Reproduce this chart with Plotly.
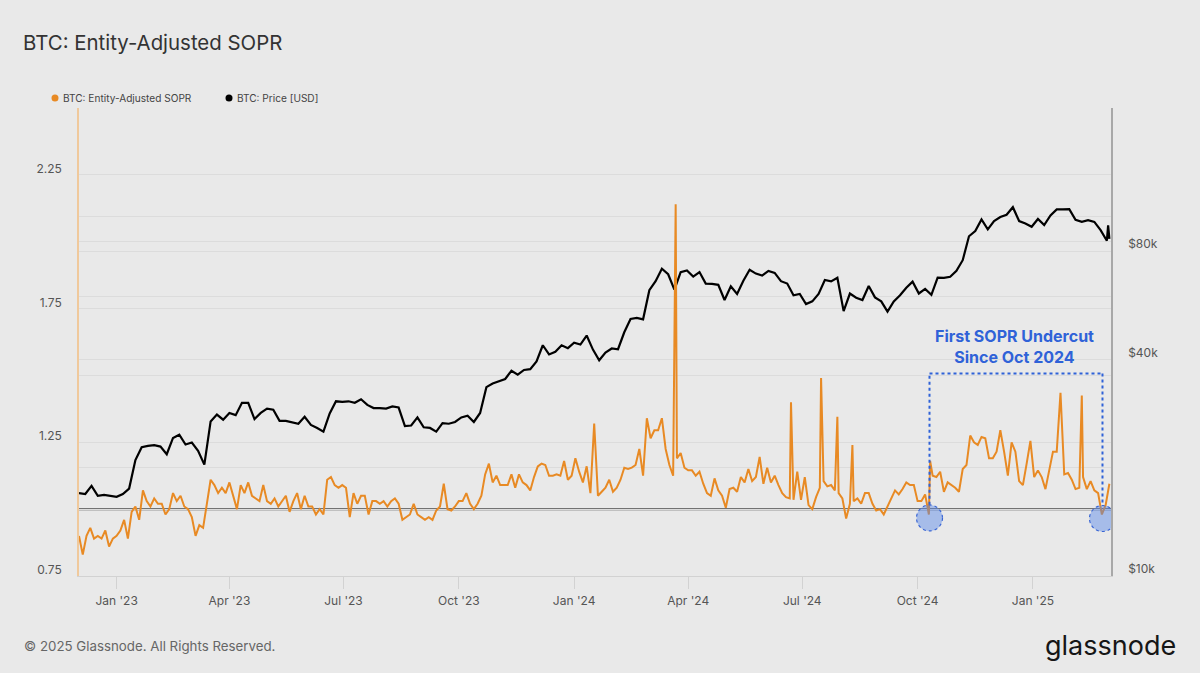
import math
import pandas as pd
import plotly.graph_objects as go

# ---------------- data ----------------
sopr_start = "2022-12-02"          # 3-day sampling
sopr_values = [
    0.90, 0.83, 0.90, 0.93, 0.89, 0.90, 0.89, 0.92, 0.86, 0.89,
    0.90, 0.92, 0.96, 0.89, 0.99, 1.01, 0.96, 1.07, 1.03, 1.01,
    1.04, 1.02, 1.02, 0.98, 1.00, 1.06, 1.03, 1.05, 1.01, 1.00,
    0.97, 0.90, 0.94, 0.93, 1.02, 1.11, 1.09, 1.06, 1.08, 1.06,
    1.10, 1.05, 1.00, 1.09, 1.06, 1.10, 1.05, 1.04, 1.03, 1.09,
    1.03, 1.02, 1.04, 1.01, 1.03, 1.05, 0.99, 1.03, 1.06, 1.00,
    1.05, 1.01, 1.01, 0.98, 1.00, 0.98, 1.11, 1.12, 1.09, 1.08,
    1.09, 1.08, 0.97, 1.06, 1.02, 1.05, 1.05, 0.98, 1.03, 1.03,
    1.02, 1.03, 1.01, 1.03, 1.04, 1.02, 0.96, 0.97, 0.98, 1.02,
    0.98, 0.97, 0.96, 0.97, 0.96, 0.995, 1.01, 1.095, 1.00, 0.995,
    1.01, 1.03, 1.03, 1.06, 1.02, 1.00, 1.02, 1.05, 1.13, 1.17,
    1.10, 1.125, 1.09, 1.09, 1.09, 1.13, 1.08, 1.13, 1.10, 1.09,
    1.07, 1.12, 1.16, 1.17, 1.165, 1.125, 1.125, 1.13, 1.125, 1.18,
    1.11, 1.125, 1.19, 1.14, 1.10, 1.16, 1.06, 1.32, 1.05, 1.065,
    1.08, 1.11, 1.065, 1.08, 1.11, 1.155, 1.15, 1.155, 1.165, 1.225,
    1.125, 1.34, 1.265, 1.295, 1.295, 1.34, 1.225, 1.165, 1.125, 1.19,
    1.21, 1.155, 1.145, 1.145, 1.125, 1.14, 1.095, 1.06, 1.05, 1.115,
    1.07, 1.05, 1.005, 1.075, 1.08, 1.065, 1.12, 1.10, 1.15, 1.105,
    1.12, 1.195, 1.095, 1.155, 1.10, 1.125, 1.09, 1.06, 1.045, 1.04,
    1.035, 1.14, 1.035, 1.12, 1.015, 1.00, 1.045, 1.08, 1.105, 1.085,
    1.09, 1.07, 1.06, 1.04, 0.965, 1.02, 1.03, 1.04, 1.02, 1.06,
    1.06, 1.02, 0.995, 1.00, 0.98, 1.01, 1.04, 1.07, 1.055, 1.075,
    1.10, 1.09, 1.09, 1.03, 1.03, 1.055, 0.98, 1.125, 1.12, 1.14,
    1.065, 1.10, 1.09, 1.08, 1.065, 1.15, 1.165, 1.275, 1.25, 1.24,
    1.27, 1.265, 1.19, 1.19, 1.215, 1.295, 1.215, 1.125, 1.25, 1.215,
    1.105, 1.09, 1.17, 1.255, 1.12, 1.145, 1.12, 1.075, 1.145, 1.215,
    1.215, 1.435, 1.13, 1.135, 1.11, 1.075, 1.08, 1.12, 1.075, 1.105,
    1.07, 1.06, 0.98, 1.015, 1.095,
]
# single-day spikes between the 3-day samples
sopr_spike_dates = ["2024-03-22", "2024-06-22", "2024-07-16", "2024-07-29",
                    "2024-08-10", "2024-10-11", "2025-02-09"]
sopr_spike_values = [2.14, 1.40, 1.49, 1.345, 1.24, 1.18, 1.425]

price_start = "2022-12-02"         # 5-day sampling, thousands of USD
price_values_k = [
    17.0, 16.9, 17.8, 16.7, 16.8, 16.7, 16.6, 16.9, 17.5, 21.0,
    22.8, 23.0, 23.1, 22.9, 21.8, 24.2, 24.7, 23.2, 23.5, 22.3,
    20.4, 26.9, 28.1, 27.2, 28.4, 28.0, 30.3, 30.3, 27.3, 28.4,
    29.2, 29.0, 27.0, 27.0, 26.8, 26.5, 27.7, 26.3, 25.8, 25.2,
    28.3, 30.6, 30.5, 30.6, 30.3, 31.0, 29.9, 29.3, 29.3, 29.2,
    29.6, 29.4, 26.1, 26.2, 27.6, 25.9, 25.8, 25.2, 26.6, 26.5,
    26.8, 27.6, 27.9, 26.8, 28.4, 33.5, 34.3, 34.8, 35.3, 37.2,
    36.3, 37.4, 37.6, 39.5, 43.8, 41.3, 42.0, 43.8, 43.0, 44.5,
    44.0, 46.6, 42.6, 39.8, 41.8, 42.9, 42.7, 47.6, 51.8, 52.2,
    51.7, 62.3, 66.0, 71.5, 69.0, 62.5, 69.9, 70.7, 68.0, 70.0,
    65.0, 64.9, 64.5, 58.5, 63.9, 60.8, 66.2, 71.0, 69.3, 68.4,
    70.5, 69.6, 66.0, 65.0, 60.3, 60.8, 57.0, 58.0, 60.8, 66.5,
    65.9, 67.5, 54.5, 61.0, 59.4, 58.5, 64.0, 59.5, 58.0, 54.3,
    58.0, 60.3, 63.3, 65.8, 61.0, 62.8, 60.5, 67.5, 67.4, 67.9,
    70.5, 75.5, 88.0, 91.0, 98.0, 92.0, 97.0, 99.5, 101.0, 106.0,
    97.0, 95.5, 93.5, 98.3, 94.5, 100.5, 104.5, 104.5, 104.7, 97.8,
    96.5, 97.5, 96.5, 91.5, 85.5,
]
price_tail_dates = ["2025-03-02", "2025-03-03"]
price_tail_values_k = [94.3, 86.5]

x_tick_dates = ["2023-01-01", "2023-04-01", "2023-07-01", "2023-10-01",
                "2024-01-01", "2024-04-01", "2024-07-01", "2024-10-01",
                "2025-01-01"]
x_tick_labels = ["Jan '23", "Apr '23", "Jul '23", "Oct '23", "Jan '24",
                 "Apr '24", "Jul '24", "Oct '24", "Jan '25"]
sopr_ticks = [0.75, 1.0, 1.25, 1.5, 1.75, 2.0, 2.25, 2.5]
sopr_tick_labels = ["0.75", "", "1.25", "", "1.75", "", "2.25", ""]
price_ticks = [10000, 20000, 40000, 60000, 80000, 100000]
price_tick_labels = ["$10k", "", "$40k", "", "$80k", ""]

# annotation anchors (dates / SOPR values)
undercut_dates = ["2024-10-10 12:00", "2025-02-25 12:00"]
undercut_level = [0.967, 0.965]
box_top = 1.507
box_bottom = 1.016
note_date = "2024-12-17"
note_level = 1.608

# ---------------- build series ----------------
sopr = pd.concat([
    pd.Series(sopr_values, index=pd.date_range(sopr_start, periods=len(sopr_values), freq="3D")),
    pd.Series(sopr_spike_values, index=pd.to_datetime(sopr_spike_dates)),
]).sort_index()

price = pd.concat([
    pd.Series(price_values_k, index=pd.date_range(price_start, periods=len(price_values_k), freq="5D")),
    pd.Series(price_tail_values_k, index=pd.to_datetime(price_tail_dates)),
]).sort_index() * 1000

ORANGE = "#e88a24"
BLUE = "#2f62d8"
BG = "#e9e9e9"
GRID = "#dcdcdc"

# plot area in pixels
L, R, T, B = 79, 1111, 108, 576
W, H = 1200, 673


def px(xp):
    return (xp - L) / (R - L)


def py(yp):
    return (B - yp) / (B - T)


fig = go.Figure()
fig.add_trace(go.Scatter(x=price.index, y=price.values, mode="lines",
                         line=dict(color="#000000", width=2.2), yaxis="y",
                         name="BTC: Price [USD]"))
fig.add_trace(go.Scatter(x=sopr.index, y=sopr.values, mode="lines",
                         line=dict(color=ORANGE, width=2), yaxis="y2",
                         name="BTC: Entity-Adjusted SOPR"))

shapes = []
# SOPR = 1 reference line
shapes.append(dict(type="line", xref="paper", x0=0, x1=1, yref="y2", y0=1, y1=1,
                   line=dict(color="#4a4a4a", width=2), layer="below"))
# dashed bracket
bl = dict(color=BLUE, width=2, dash="dot")
shapes.append(dict(type="line", xref="x", yref="y2", x0=undercut_dates[0], x1=undercut_dates[0],
                   y0=box_bottom, y1=box_top, line=bl))
shapes.append(dict(type="line", xref="x", yref="y2", x0=undercut_dates[0], x1=undercut_dates[1],
                   y0=box_top, y1=box_top, line=bl))
shapes.append(dict(type="line", xref="x", yref="y2", x0=undercut_dates[1], x1=undercut_dates[1],
                   y0=box_top, y1=box_bottom, line=bl))
# circles at the undercuts
for d, v in zip(undercut_dates, undercut_level):
    shapes.append(dict(type="circle", xref="x", yref="y2", xsizemode="pixel", ysizemode="pixel",
                       xanchor=d, yanchor=v, x0=-13, x1=13, y0=-13, y1=13,
                       fillcolor="rgba(84,134,232,0.45)",
                       line=dict(color="#3a66d4", width=1.2, dash="dot")))
# legend dots
for cx, col in [(55, ORANGE), (229, "#000000")]:
    shapes.append(dict(type="circle", xref="paper", yref="paper",
                       x0=px(cx - 3.5), x1=px(cx + 3.5), y0=py(98 + 3.5), y1=py(98 - 3.5),
                       fillcolor=col, line=dict(width=0)))

annotations = [
    dict(text="BTC: Entity-Adjusted SOPR", xref="paper", yref="paper", x=px(21), y=py(42),
         xanchor="left", yanchor="middle", showarrow=False,
         font=dict(size=20.4, color="#333333")),
    dict(text="BTC: Entity-Adjusted SOPR", xref="paper", yref="paper", x=px(61), y=py(98),
         xanchor="left", yanchor="middle", showarrow=False,
         font=dict(size=10.1, color="#444444")),
    dict(text="BTC: Price [USD]", xref="paper", yref="paper", x=px(235), y=py(98),
         xanchor="left", yanchor="middle", showarrow=False,
         font=dict(size=10.1, color="#444444")),
    dict(text="© 2025 Glassnode. All Rights Reserved.", xref="paper", yref="paper",
         x=px(22), y=py(646), xanchor="left", yanchor="middle", showarrow=False,
         font=dict(size=13.3, color="#666666")),
    dict(text="glassnode", xref="paper", yref="paper", x=px(1178), y=py(645),
         xanchor="right", yanchor="middle", showarrow=False,
         font=dict(size=27, color="#161616")),
    dict(text="<b>First SOPR Undercut</b><br><b>Since Oct 2024</b>", xref="x", yref="y2",
         x=note_date, y=note_level, xanchor="center", yanchor="middle", showarrow=False,
         align="center", font=dict(size=16, color=BLUE)),
]

fig.update_layout(
    width=W, height=H, autosize=False,
    paper_bgcolor=BG, plot_bgcolor=BG,
    margin=dict(l=L, r=W - R, t=T, b=H - B, pad=0),
    showlegend=False,
    font=dict(family="Inter, Roboto, sans-serif", size=12, color="#555555"),
    xaxis=dict(type="date", range=["2022-12-02", "2025-03-04 07:00"],
               tickvals=x_tick_dates, ticktext=x_tick_labels,
               ticks="outside", ticklen=12, tickcolor="#d2d2d2", tickwidth=1,
               showgrid=False, showline=True, linecolor="#d2d2d2", linewidth=1,
               zeroline=False, ticklabelstandoff=2,
               tickfont=dict(size=12, color="#555555")),
    yaxis=dict(type="log", range=[4, math.log10(200000)], side="right",
               tickvals=price_ticks, ticktext=price_tick_labels,
               showgrid=True, gridcolor=GRID, gridwidth=1,
               showline=True, linecolor="#a8a8a8", linewidth=1.5, zeroline=False,
               ticks="", ticklabelshift=-7, ticklabelstandoff=13,
               tickfont=dict(size=12, color="#555555")),
    yaxis2=dict(range=[0.75, 2.5], overlaying="y", side="left",
                tickvals=sopr_ticks, ticktext=sopr_tick_labels,
                showgrid=True, gridcolor=GRID, gridwidth=1,
                showline=True, linecolor="#f0c99c", linewidth=1.5, zeroline=False,
                ticks="", ticklabelshift=-6, ticklabelstandoff=13,
                tickfont=dict(size=12, color="#555555")),
    shapes=shapes,
    annotations=annotations,
)

fig.write_html(
    "out.html",
    config={"displayModeBar": False},
    post_script="document.body.style.margin='0';document.body.style.background='#e9e9e9';",
)
